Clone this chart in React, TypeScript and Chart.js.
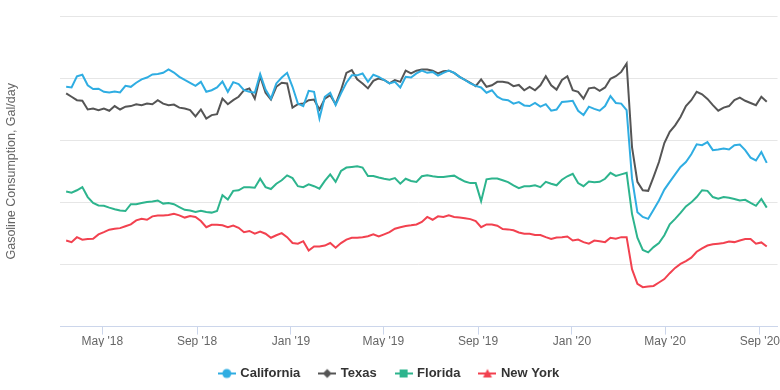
import React, { useEffect, useRef } from "react";
import { Chart, registerables } from "chart.js";

Chart.register(...registerables);

// Weekly series, first week starting on FIRST_WEEK
const FIRST_WEEK = "2018-03-15";

const california = [
  77.2, 77.0, 80.6, 81.1, 77.7, 76.5, 76.6, 75.6, 75.4, 75.7, 75.4, 77.5, 77.2, 78.5, 79.6, 80.2, 81.2, 81.3, 81.7, 82.8,
  81.8, 80.4, 79.4, 78.5, 77.5, 78.8, 75.6, 76.1, 77.0, 78.9, 75.6, 78.7, 78.1,
  76.1, 75.6, 75.3, 81.3, 76.3, 73.4, 78.3, 80.2, 81.7, 77.2, 71.8, 71.0, 75.9, 75.6, 67.0, 74.0, 75.3, 71.3, 75.1, 78.5,
  80.9, 80.9, 81.5, 78.8, 81.1, 80.4, 79.4, 78.3, 78.8, 77.0, 80.4, 80.2, 81.5, 82.4,
  81.7, 82.0, 80.8, 81.7, 82.4, 81.7, 80.4, 79.4, 78.3, 77.5, 77.0, 75.3, 76.1, 74.0, 73.1, 72.9, 71.8, 72.3, 71.2, 71.0,
  72.0, 70.8, 71.6, 69.5, 69.9, 72.3, 72.5, 72.7, 69.5, 68.1, 70.8, 70.1,
  69.5, 71.0, 74.2, 72.0, 71.8, 69.7, 47.7, 36.8, 35.3, 34.7, 37.6, 40.6, 44.1, 46.6, 49.0, 51.4, 53.0, 55.5, 58.7, 58.4,
  59.4, 56.8, 57.0, 57.3, 57.0, 58.4, 58.6, 56.8, 54.4, 53.5, 56.2, 52.7,
];

const texas = [
  75.1, 74.0, 72.9, 72.7, 69.9, 70.2, 69.7, 70.2, 69.5, 71.0, 69.9, 70.8, 71.0, 71.6, 71.3, 71.8, 71.6, 72.9, 71.8, 71.3,
  71.5, 70.5, 70.2, 69.7, 67.7, 69.9, 67.0, 68.1, 68.4, 73.4, 71.6, 72.9, 74.0,
  76.1, 76.7, 73.4, 80.6, 75.3, 73.1, 77.2, 78.5, 78.3, 70.5, 71.6, 71.8, 72.9, 73.1, 69.9, 73.4, 74.5, 71.6, 76.1, 81.7,
  82.6, 79.6, 78.3, 76.7, 79.1, 79.9, 79.4, 78.3, 79.4, 78.8, 82.4, 81.5, 82.4, 82.8,
  82.8, 82.4, 81.5, 82.2, 82.4, 81.7, 80.4, 79.4, 78.5, 77.4, 79.6, 77.2, 77.7, 78.8, 78.8, 78.5, 77.4, 77.8, 76.1, 77.2,
  76.1, 77.7, 80.6, 77.7, 76.3, 79.4, 80.6, 76.1, 75.6, 73.4, 76.7, 77.0,
  75.9, 77.0, 79.8, 80.6, 82.0, 84.7, 57.8, 46.6, 43.9, 43.7, 48.2, 53.0, 59.1, 62.7, 64.8, 67.5, 71.0, 72.9, 75.6, 74.8,
  73.3, 71.3, 69.5, 70.5, 71.0, 72.9, 73.7, 72.7, 72.0, 71.3, 74.0, 72.4,
];

const florida = [
  43.5, 43.1, 43.9, 44.9, 41.7, 39.8, 39.0, 38.9, 38.3, 37.8, 37.4, 37.2, 39.4, 39.4, 39.8, 40.1, 40.3, 40.6, 39.6, 39.8,
  39.4, 38.5, 37.6, 37.4, 36.9, 37.3, 36.9, 36.7, 37.2, 42.3, 40.9, 43.7, 43.9,
  44.9, 44.9, 44.7, 47.6, 44.9, 44.3, 46.0, 47.1, 48.7, 47.8, 45.2, 44.9, 45.8, 45.2, 44.4, 46.9, 49.0, 46.6, 50.1, 51.2,
  51.4, 51.6, 51.2, 48.5, 48.5, 48.0, 47.6, 47.3, 47.8, 46.0, 47.6, 46.9, 46.6, 48.4,
  48.7, 48.4, 48.2, 48.2, 48.4, 48.6, 47.6, 46.7, 46.2, 46.2, 40.4, 47.4, 47.7, 47.7, 47.1, 46.5, 45.5, 44.6, 45.2, 45.2,
  45.5, 44.9, 46.6, 46.0, 45.5, 47.3, 48.4, 49.2, 46.2, 45.2, 46.7, 46.5,
  46.6, 47.6, 49.5, 48.5, 49.0, 49.5, 36.3, 28.6, 24.7, 23.9, 25.6, 26.9, 29.4, 32.9, 34.7, 36.6, 38.7, 40.0, 41.7, 43.9,
  43.7, 41.7, 41.2, 41.7, 41.5, 41.1, 40.6, 40.8, 39.8, 38.9, 41.1, 38.3,
];

const newYork = [
  27.7, 27.2, 28.8, 28.0, 28.2, 28.3, 29.7, 30.4, 31.2, 31.5, 31.7, 32.3, 32.9, 34.2, 34.7, 34.4, 35.5, 35.8, 35.8, 35.9,
  36.3, 35.8, 35.1, 35.6, 35.3, 34.0, 32.0, 32.8, 32.8, 32.6, 32.0, 32.5, 31.8,
  30.4, 30.8, 29.9, 30.6, 29.9, 28.6, 29.4, 30.1, 28.8, 26.9, 26.7, 27.5, 24.5, 25.8, 25.8, 26.1, 26.9, 25.4, 26.9, 28.0,
  28.6, 28.6, 28.8, 29.1, 29.7, 29.0, 29.7, 30.4, 31.5, 32.0, 32.4, 32.6, 32.9, 33.7,
  35.3, 34.4, 35.5, 35.3, 35.8, 35.3, 35.1, 34.9, 34.6, 34.0, 32.0, 32.9, 32.9, 32.5, 31.4, 31.3, 31.0, 30.3, 29.9, 29.9,
  29.5, 29.5, 28.8, 28.2, 28.7, 28.8, 29.0, 27.7, 28.0, 27.2, 26.7, 27.7,
  27.5, 27.2, 28.6, 28.3, 28.8, 28.8, 18.5, 13.8, 12.7, 12.9, 13.1, 14.2, 15.3, 17.2, 18.9, 20.2, 21.1, 22.2, 24.1, 25.2,
  26.1, 26.5, 26.7, 26.9, 27.4, 27.2, 27.7, 28.2, 28.2, 26.7, 27.1, 25.8,
];

const tickDates = ["2018-05-01", "2018-09-01", "2019-01-01", "2019-05-01", "2019-09-01", "2020-01-01", "2020-05-01", "2020-09-01"];
const tickLabels = ["May '18", "Sep '18", "Jan '19", "May '19", "Sep '19", "Jan '20", "May '20", "Sep '20"];

const seriesNames = ["California", "Texas", "Florida", "New York"];
const seriesValues = [california, texas, florida, newYork];
const seriesColors = ["#2fade2", "#555555", "#2db48d", "#f2414f"];
const seriesMarkers = ["circle", "diamond", "square", "triangle"];

const yTitle = "Gasoline Consumption, Gal/day";

const ORIGIN = Date.UTC(2018, 0, 1);
const DAY_MS = 86400000;
const dayOf = (iso: string) => (Date.parse(iso + "T00:00:00Z") - ORIGIN) / DAY_MS;

function makeSymbol(color: string, marker: string): HTMLCanvasElement {
  const c = document.createElement("canvas");
  c.width = 18;
  c.height = 12;
  const g = c.getContext("2d")!;
  g.strokeStyle = color;
  g.fillStyle = color;
  g.lineWidth = 2;
  g.beginPath();
  g.moveTo(0, 6);
  g.lineTo(18, 6);
  g.stroke();
  g.beginPath();
  if (marker === "circle") {
    g.arc(9, 6, 4.5, 0, Math.PI * 2);
  } else if (marker === "diamond") {
    g.moveTo(9, 1.5);
    g.lineTo(13.5, 6);
    g.lineTo(9, 10.5);
    g.lineTo(4.5, 6);
    g.closePath();
  } else if (marker === "square") {
    g.rect(5, 2, 8, 8);
  } else {
    g.moveTo(9, 1.5);
    g.lineTo(13.5, 10);
    g.lineTo(4.5, 10);
    g.closePath();
  }
  g.fill();
  return c;
}

export default function App() {
  const ref = useRef<HTMLCanvasElement | null>(null);

  useEffect(() => {
    document.body.style.margin = "0";
    const canvas = ref.current;
    if (!canvas) return;
    const start = dayOf(FIRST_WEEK);
    const tickDays = tickDates.map(dayOf);
    const symbols = seriesColors.map((c, i) => makeSymbol(c, seriesMarkers[i]));

    const chart = new Chart(canvas, {
      type: "line",
      data: {
        datasets: seriesNames.map((name, s) => ({
          label: name,
          data: seriesValues[s].map((v, i) => ({ x: start + 7 * i, y: v })),
          borderColor: seriesColors[s],
          backgroundColor: seriesColors[s],
          borderWidth: 2,
          pointRadius: 0,
          tension: 0,
          fill: false,
        })),
      },
      options: {
        animation: false,
        responsive: false,
        layout: { padding: { top: 16, right: 1, bottom: 0, left: 0 } },
        plugins: {
          tooltip: { enabled: false },
          legend: {
            position: "bottom",
            labels: {
              usePointStyle: true,
              pointStyleWidth: 14,
              boxHeight: 12,
              padding: 20,
              color: "#333333",
              font: { family: "'Liberation Sans', Arial, sans-serif", size: 13, weight: "bold" },
              generateLabels: () =>
                seriesNames.map((name, i) => ({
                  text: name,
                  fillStyle: seriesColors[i],
                  strokeStyle: seriesColors[i],
                  lineWidth: 0,
                  pointStyle: symbols[i] as any,
                  fontColor: "#333333",
                  hidden: false,
                  datasetIndex: i,
                })),
            },
          },
        },
        scales: {
          x: {
            type: "linear",
            min: 65,
            max: 997,
            afterBuildTicks: (scale: any) => {
              scale.ticks = tickDays.map((d) => ({ value: d }));
            },
            afterFit: (scale: any) => {
              scale.height = scale.height - 2;
            },
            ticks: {
              autoSkip: false,
              maxRotation: 0,
              padding: 0,
              color: "#666666",
              font: { family: "'Liberation Sans', Arial, sans-serif", size: 12 },
              callback: (_v: any, i: number) => tickLabels[i],
            },
            grid: {
              drawOnChartArea: false,
              drawTicks: true,
              tickLength: 8,
              color: "#ccd6eb",
              lineWidth: 1,
            },
            border: { display: true, color: "#ccd6eb", width: 1 },
          },
          y: {
            min: 0,
            max: 100,
            afterFit: (scale: any) => {
              scale.width = 60;
            },
            ticks: { display: false, stepSize: 20 },
            grid: { color: "#e6e6e6", lineWidth: 1, drawTicks: false },
            border: { display: false },
            title: {
              display: true,
              text: yTitle,
              color: "#666666",
              padding: { top: 4, bottom: 0 },
              font: { family: "'Liberation Sans', Arial, sans-serif", size: 12.5 },
            },
          },
        },
      },
    });
    return () => chart.destroy();
  }, []);

  return (
    <div style={{ width: 780, height: 390 }}>
      <canvas ref={ref} width={780} height={390} />
    </div>
  );
}
